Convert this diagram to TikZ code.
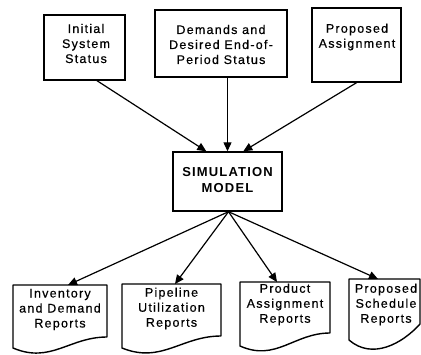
\documentclass[tikz,border=0pt]{standalone}
\usepackage{fontspec}
\setmainfont{Liberation Sans}
\newfontfamily\lbl[LetterSpace=10,FakeBold=0.5]{Liberation Sans}
\newfontfamily\lblb[LetterSpace=9]{Liberation Sans Bold}
\usetikzlibrary{arrows.meta,calc}
\begin{document}
\begin{tikzpicture}[x=1pt,y=-1pt,
  box/.style={draw, line width=1.4pt, inner sep=0pt},
  txt/.style={font=\lbl\fontsize{12.5}{15}\selectfont, align=center, inner sep=0pt},
  boldtxt/.style={font=\lblb\fontsize{13}{15.5}\selectfont, align=center, inner sep=0pt},
  conn/.style={line width=1.2pt, -{Triangle[length=9pt,width=8pt]}},
  docline/.style={line width=1.4pt, line join=round}]
\useasboundingbox (0,0) rectangle (421,354);

% top boxes
\node[box, minimum width=81pt, minimum height=65pt] (b1) at (84.5,47.5) {};
\node[txt] (t1) at (86,43.5) {Initial\\System\\Status};
\node[box, minimum width=132pt, minimum height=67pt] (b2) at (221,43.5) {};
\node[txt] (t2) at (221,44.5) {Demands and\\Desired End-of-\\Period Status};
\node[box, minimum width=89pt, minimum height=74pt] (b3) at (356.5,45) {};
\node[txt] (t3) at (357,37) {Proposed\\Assignment};

% simulation model
\node[box, minimum width=109pt, minimum height=59pt] (sim) at (227.5,181.5) {};
\node[boldtxt] (ts) at (227.5,180) {SIMULATION\\MODEL};

% documents
\newcommand\docpath[5]{%
  \draw[docline] (#1,#3) -- (#2,#3) -- (#2,#5)
    .. controls ({#1+0.6*(#2-#1)},#5) and ({#1+0.4*(#2-#1)},#4+16) .. (#1,#4) -- cycle;}
\docpath{13}{107}{285}{348}{337}
\docpath{122}{221}{284}{348}{336}
\docpath{240}{330}{282}{346}{333}
\draw[docline] (349,279) -- (420,279) -- (420,324)
  .. controls (402,344) and (372,360) .. (349,340) -- cycle;

\node[txt] (d1) at (60,309.5) {Inventory\\and Demand\\Reports};
\node[txt] (d2) at (171.5,308.5) {Pipeline\\Utilization\\Reports};
\node[txt] (d3) at (285,304.5) {Product\\Assignment\\Reports};
\node[txt] (d4) at (386,304.5) {Proposed\\Schedule\\Reports};

\coordinate (d1top) at (68,285);
\coordinate (d2top) at (175,284);
\coordinate (d3top) at (277,282);
\coordinate (d4top) at (378,279);

% connectors in
\draw[conn] ($(b1.south)+(12.5,0)$) -- ($(sim.north west)+(34,0)$);
\draw[conn] (sim.north |- b2.south) -- (sim.north);
\draw[conn] (b3.south) -- ($(sim.north west)+(71,0)$);

% connectors out
\draw[conn] ($(sim.south)+(1,0)$) -- (d1top);
\draw[conn] ($(sim.south)+(1,0)$) -- (d2top);
\draw[conn] ($(sim.south)+(1,0)$) -- (d3top);
\draw[conn] ($(sim.south)+(1,0)$) -- (d4top);
\end{tikzpicture}
\end{document}
